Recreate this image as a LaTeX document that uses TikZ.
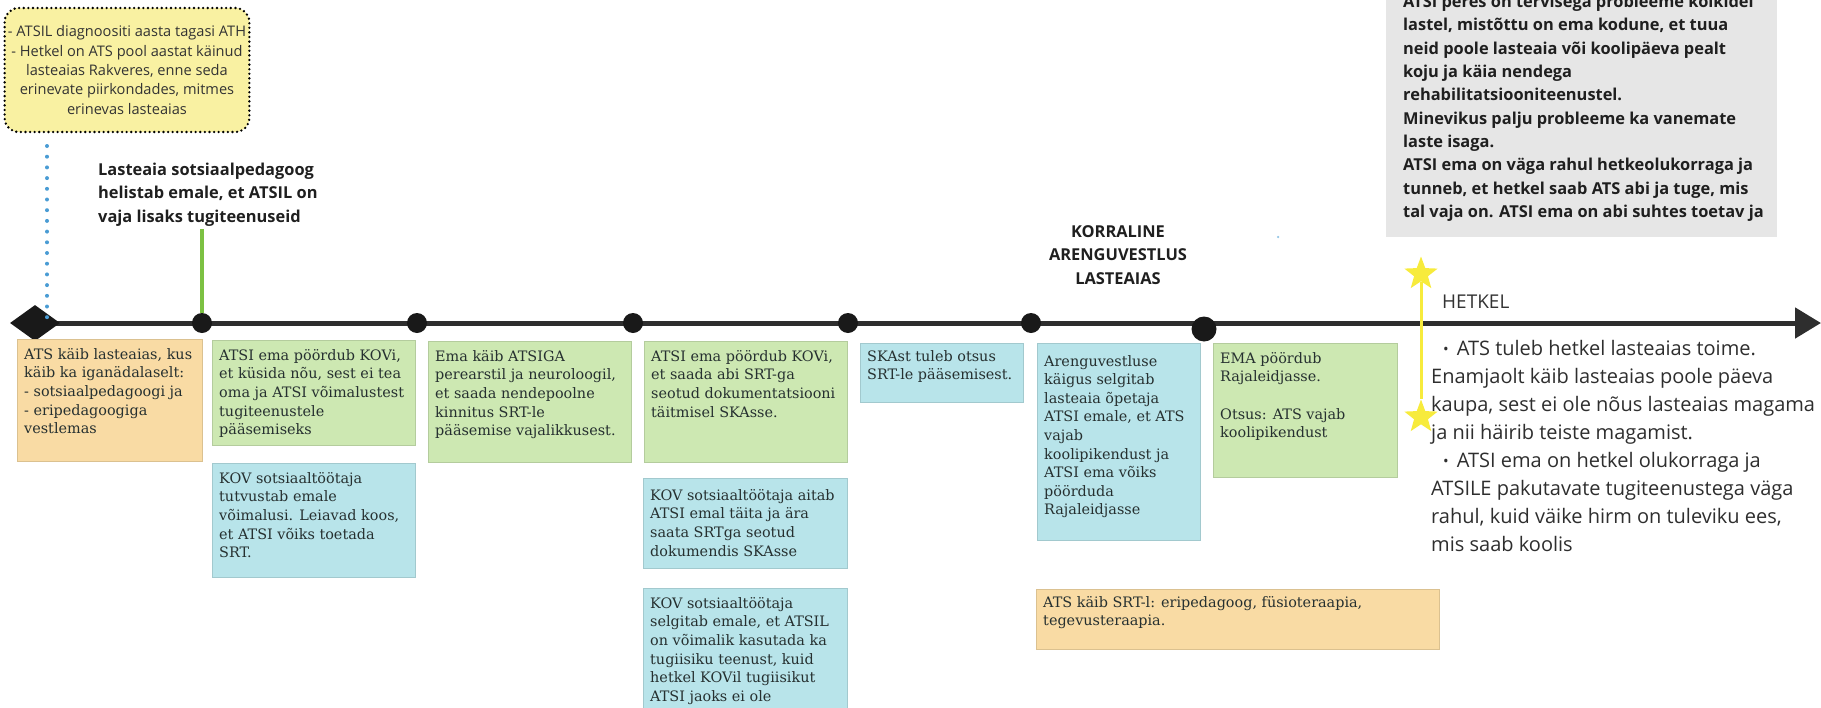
\documentclass[tikz,border=0pt]{standalone}
\usepackage{fontspec}
\setmainfont{Open Sans}
\newfontfamily\cardserif{DejaVu Serif}
\usetikzlibrary{shapes.geometric, arrows.meta, positioning}
\definecolor{cardorange}{HTML}{F9DBA4}
\definecolor{cardgreen}{HTML}{CDE8B2}
\definecolor{cardblue}{HTML}{B8E4EA}
\definecolor{notegray}{HTML}{E6E6E6}
\definecolor{noteyellow}{HTML}{F9F1A2}
\definecolor{dotblue}{HTML}{4A9CD4}
\definecolor{stemgreen}{HTML}{7CC142}
\definecolor{staryellow}{HTML}{F7EB3C}
\definecolor{axisgray}{HTML}{2E2E2E}
\definecolor{inkgray}{HTML}{263030}
\tikzset{
  card/.style={rectangle, anchor=north west, inner sep=0pt, line width=0.8pt},
  orangecard/.style={card, fill=cardorange, draw=cardorange!88!black},
  greencard/.style={card, fill=cardgreen, draw=cardgreen!88!black},
  bluecard/.style={card, fill=cardblue, draw=cardblue!88!black},
  cardtxt/.style={anchor=north west, align=left, inner xsep=7pt, inner ysep=9pt, text=inkgray, font=\cardserif\fontsize{14.4}{18.6}\selectfont},
  evdot/.style={circle, fill=black!90, inner sep=0pt, minimum size=20pt},
  headline/.style={align=left, inner sep=0pt, text=black!88, font=\bfseries\fontsize{16.4}{23.3}\selectfont},
  nowstar/.style={star, star points=5, star point ratio=2.4, fill=staryellow, inner sep=0pt, minimum size=35pt},
}
\newcommand{\nowbullet}{\hspace*{12pt}\raisebox{0.5pt}{\fontsize{15}{15}\selectfont •}\hspace{8pt}}
\begin{document}
\begin{tikzpicture}[x=1pt, y=-1pt]
\useasboundingbox (0,0) rectangle (1821,707);
\clip (0,0) rectangle (1821,707);
% timeline
\coordinate (t0) at (35,323);
\coordinate (tend) at (1821,323);
\draw[axisgray, line width=5pt, -{Triangle[length=26pt, width=30pt]}] (t0) -- (tend);
\node[diamond, fill=black!90, inner sep=0pt, minimum width=50pt, minimum height=36pt] (start) at (t0) {};
\node[evdot] (e1) at (202,323) {};
\node[evdot] (e2) at (417,323) {};
\node[evdot] (e3) at (633,323) {};
\node[evdot] (e4) at (848,323) {};
\node[evdot] (e5) at (1031,323) {};
\node[evdot, minimum size=25pt] (e6) at (1204,329) {};
% diagnosis note
\node[draw=black, line width=2.6pt, dash pattern=on 0pt off 4.6pt, line cap=round, rounded corners=14pt, fill=noteyellow, minimum width=240pt, minimum height=124pt, align=center, font=\fontsize{14.6}{19.4}\selectfont, text=black!80] (diag) at (127,70) {- ATSIL diagnoositi aasta tagasi ATH\\ - Hetkel on ATS pool aastat käinud\\ lasteaias Rakveres, enne seda\\ erinevate piirkondades, mitmes\\ erinevas lasteaias};
\coordinate (dtop) at (47,146);
\coordinate (dbot) at (47,318);
\draw[dotblue, line width=4pt, line cap=round, dash pattern=on 0pt off 10.7pt] (dtop) -- (dbot);
% phone call
\node[headline, anchor=north west] (call) at (98,163) {Lasteaia sotsiaalpedagoog\\ helistab emale, et ATSIL on\\ vaja lisaks tugiteenuseid};
\draw[stemgreen, line width=3.5pt] ([yshift=-3pt]call.south -| e1) -- (e1);
% cards
\node[orangecard, minimum width=185pt, minimum height=122pt] (c1) at (17,339) {};
\node[cardtxt] (c1t) at (c1.north west) {ATS käib lasteaias, kus\\ käib ka iganädalaselt:\\ - sotsiaalpedagoogi ja\\ - eripedagoogiga\\ vestlemas};
\node[greencard, minimum width=203pt, minimum height=105pt] (c2) at (212,340) {};
\node[cardtxt] (c2t) at (c2.north west) {ATSI ema pöördub KOVi,\\ et küsida nõu, sest ei tea\\ oma ja ATSI võimalustest\\ tugiteenustele\\ pääsemiseks};
\node[bluecard, minimum width=203pt, minimum height=114pt] (c2b) at (212,463) {};
\node[cardtxt] (c2bt) at (c2b.north west) {KOV sotsiaaltöötaja\\ tutvustab emale\\ võimalusi. Leiavad koos,\\ et ATSI võiks toetada\\ SRT.};
\node[greencard, minimum width=203pt, minimum height=121pt] (c3) at (428,341) {};
\node[cardtxt] (c3t) at (c3.north west) {Ema käib ATSIGA\\ perearstil ja neuroloogil,\\ et saada nendepoolne\\ kinnitus SRT-le\\ pääsemise vajalikkusest.};
\node[greencard, minimum width=203pt, minimum height=121pt] (c4) at (644,341) {};
\node[cardtxt] (c4t) at (c4.north west) {ATSI ema pöördub KOVi,\\ et saada abi SRT-ga\\ seotud dokumentatsiooni\\ täitmisel SKAsse.};
\node[bluecard, minimum width=204pt, minimum height=90pt] (c4b) at (643,478) {};
\node[cardtxt, inner ysep=11pt] (c4bt) at (c4b.north west) {KOV sotsiaaltöötaja aitab\\ ATSI emal täita ja ära\\ saata SRTga seotud\\ dokumendis SKAsse};
\node[bluecard, minimum width=204pt, minimum height=130pt] (c4c) at (643,588) {};
\node[cardtxt] (c4ct) at (c4c.north west) {KOV sotsiaaltöötaja\\ selgitab emale, et ATSIL\\ on võimalik kasutada ka\\ tugiisiku teenust, kuid\\ hetkel KOVil tugiisikut\\ ATSI jaoks ei ole};
\node[bluecard, minimum width=163pt, minimum height=59pt] (c5) at (860,343) {};
\node[cardtxt, inner ysep=7pt] (c5t) at (c5.north west) {SKAst tuleb otsus\\ SRT-le pääsemisest.};
\node[bluecard, minimum width=163pt, minimum height=197pt] (c6) at (1037,343) {};
\node[cardtxt, inner ysep=12pt] (c6t) at (c6.north west) {Arenguvestluse\\ käigus selgitab\\ lasteaia õpetaja\\ ATSI emale, et ATS\\ vajab\\ koolipikendust ja\\ ATSI ema võiks\\ pöörduda\\ Rajaleidjasse};
\node[greencard, minimum width=184pt, minimum height=134pt] (c7) at (1213,343) {};
\node[cardtxt] (c7t) at (c7.north west) {EMA pöördub\\ Rajaleidjasse.\\[18.6pt] Otsus: ATS vajab\\ koolipikendust};
\node[orangecard, minimum width=403pt, minimum height=60pt] (c8) at (1036,589) {};
\node[cardtxt, inner ysep=7pt] (c8t) at (c8.north west) {ATS käib SRT-l: eripedagoog, füsioteraapia,\\ tegevusteraapia.};
% development talk
\node[headline, align=center] (talk) at (1118,255) {KORRALINE\\ ARENGUVESTLUS\\ LASTEAIAS};
\node[circle, fill=dotblue!60, inner sep=0pt, minimum size=2.5pt] (speck) at (1278,237) {};
% family note
\node[card, fill=notegray, minimum width=391pt, minimum height=245pt] (home) at (1386,-8) {};
\node[headline, anchor=north west] (homet) at (1403,-5) {ATSI peres on tervisega probleeme kõikidel\\ lastel, mistõttu on ema kodune, et tuua\\ neid poole lasteaia või koolipäeva pealt\\ koju ja käia nendega\\ rehabilitatsiooniteenustel.\\ Minevikus palju probleeme ka vanemate\\ laste isaga.\\ ATSI ema on väga rahul hetkeolukorraga ja\\ tunneb, et hetkel saab ATS abi ja tuge, mis\\ tal vaja on. ATSI ema on abi suhtes toetav ja};
% now
\node[nowstar] (s1) at (1421,274) {};
\node[nowstar] (s2) at (1421,417) {};
\draw[staryellow, line width=3pt] (s1.south) -- (s2.north);
\node[anchor=west, inner sep=0pt, font=\fontsize{19}{26}\selectfont, text=black!80] (now) at (1442,302) {HETKEL};
\node[anchor=north west, align=left, inner sep=0pt, font=\fontsize{20}{28}\selectfont, text=black!82] (nowtxt) at (1431,340) {\nowbullet ATS tuleb hetkel lasteaias toime.\\ Enamjaolt käib lasteaias poole päeva\\ kaupa, sest ei ole nõus lasteaias magama\\ ja nii häirib teiste magamist.\\ \nowbullet ATSI ema on hetkel olukorraga ja\\ ATSILE pakutavate tugiteenustega väga\\ rahul, kuid väike hirm on tuleviku ees,\\ mis saab koolis};
\end{tikzpicture}
\end{document}
